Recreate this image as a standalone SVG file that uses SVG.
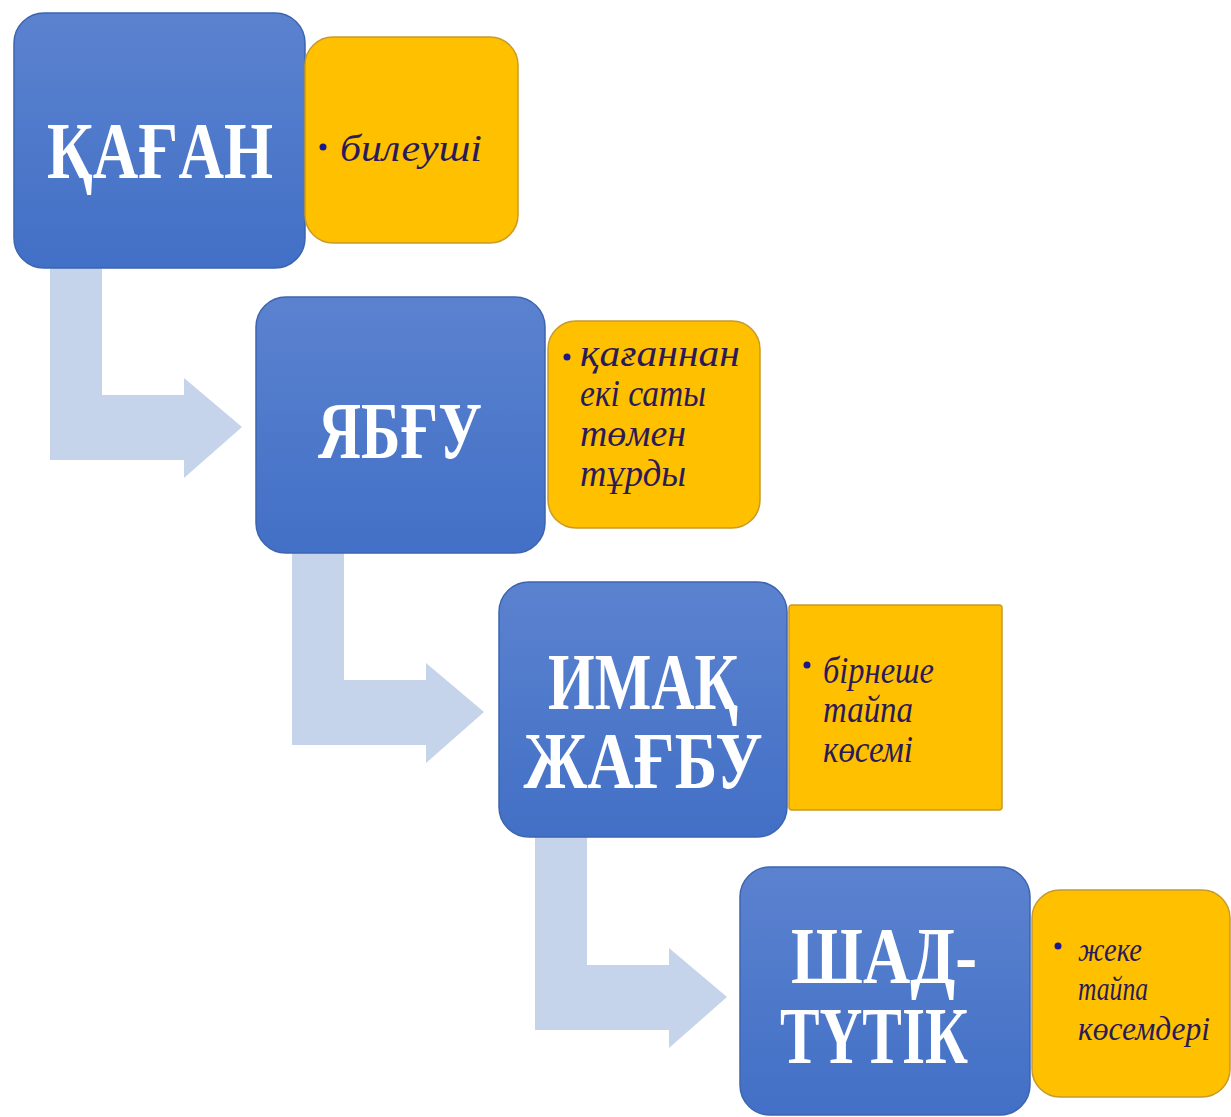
<svg xmlns="http://www.w3.org/2000/svg" width="1231" height="1117" viewBox="0 0 1231 1117">
<defs>
<linearGradient id="blueGrad" x1="0" y1="0" x2="0" y2="1">
<stop offset="0" stop-color="#5b82cf"/>
<stop offset="1" stop-color="#4270c6"/>
</linearGradient>
<style>
.blue{fill:url(#blueGrad);stroke:#3d64b0;stroke-width:1.5}
.yellow{fill:#ffc000;stroke:#c89a2a;stroke-width:1.5}
.arrow{fill:#c5d4ea}
.title{font-family:"Liberation Serif","Times New Roman",serif;font-weight:bold;font-size:80px;fill:#ffffff;text-anchor:middle}
.desc{font-family:"Liberation Serif","Times New Roman",serif;font-style:italic;font-size:37px;fill:#2a1a5a}
.small{font-size:33px}
.dot{fill:#1a1a8c}
</style>
</defs>
<rect width="1231" height="1117" fill="#ffffff"/>
<g id="connectors">
<path class="arrow" d="M50,262 H102 V395 H184 V378 L242,427 L184,478 V460 H50 Z"/>
<path class="arrow" d="M292,548 H344 V680 H426 V663 L484,712 L426,763 V745 H292 Z"/>
<path class="arrow" d="M535,832 H587 V965 H669 V948 L727,997 L669,1048 V1030 H535 Z"/>
</g>
<g id="node-kagan">
<rect class="blue" x="14" y="13" width="291" height="255" rx="30"/>
<text class="title" x="160" y="178" textLength="226" lengthAdjust="spacingAndGlyphs">ҚАҒАН</text>
</g>
<g id="desc-kagan">
<rect class="yellow" x="305" y="37" width="213" height="206" rx="28"/>
<circle class="dot" cx="323" cy="147" r="3.5"/>
<text class="desc" x="340" y="161" textLength="142" lengthAdjust="spacingAndGlyphs">билеуші</text>
</g>
<g id="node-yabgu">
<rect class="blue" x="256" y="297" width="289" height="256" rx="30"/>
<text class="title" x="400" y="458" textLength="164" lengthAdjust="spacingAndGlyphs">ЯБҒУ</text>
</g>
<g id="desc-yabgu">
<rect class="yellow" x="548" y="321" width="212" height="207" rx="28"/>
<circle class="dot" cx="567" cy="357" r="3.5"/>
<text class="desc" x="580" y="366" textLength="160" lengthAdjust="spacingAndGlyphs">қағаннан</text>
<text class="desc" x="580" y="406" textLength="126" lengthAdjust="spacingAndGlyphs">екі саты</text>
<text class="desc" x="580" y="446" textLength="106" lengthAdjust="spacingAndGlyphs">төмен</text>
<text class="desc" x="580" y="486" textLength="106" lengthAdjust="spacingAndGlyphs">тұрды</text>
</g>
<g id="node-imak">
<rect class="blue" x="499" y="582" width="288" height="255" rx="30"/>
<text class="title" x="643" y="709" textLength="190" lengthAdjust="spacingAndGlyphs">ИМАҚ</text>
<text class="title" x="643" y="788" textLength="239" lengthAdjust="spacingAndGlyphs">ЖАҒБУ</text>
</g>
<g id="desc-imak">
<rect class="yellow" x="789" y="605" width="213" height="205" rx="3"/>
<circle class="dot" cx="807" cy="665" r="3.5"/>
<text class="desc" x="823" y="683" textLength="111" lengthAdjust="spacingAndGlyphs">бірнеше</text>
<text class="desc" x="823" y="722" textLength="90" lengthAdjust="spacingAndGlyphs">тайпа</text>
<text class="desc" x="823" y="762" textLength="90" lengthAdjust="spacingAndGlyphs">көсемі</text>
</g>
<g id="node-shad">
<rect class="blue" x="740" y="867" width="290" height="248" rx="30"/>
<text class="title" x="884" y="983" textLength="186" lengthAdjust="spacingAndGlyphs">ШАД-</text>
<text class="title" x="874" y="1063" textLength="188" lengthAdjust="spacingAndGlyphs">ТҮТІК</text>
</g>
<g id="desc-shad">
<rect class="yellow" x="1032" y="890" width="198" height="207" rx="28"/>
<circle class="dot" cx="1058" cy="946" r="3.5"/>
<text class="desc small" x="1078" y="961" textLength="64" lengthAdjust="spacingAndGlyphs">жеке</text>
<text class="desc small" x="1078" y="1000" textLength="70" lengthAdjust="spacingAndGlyphs">тайпа</text>
<text class="desc small" x="1078" y="1040" textLength="132" lengthAdjust="spacingAndGlyphs">көсемдері</text>
</g>
</svg>
